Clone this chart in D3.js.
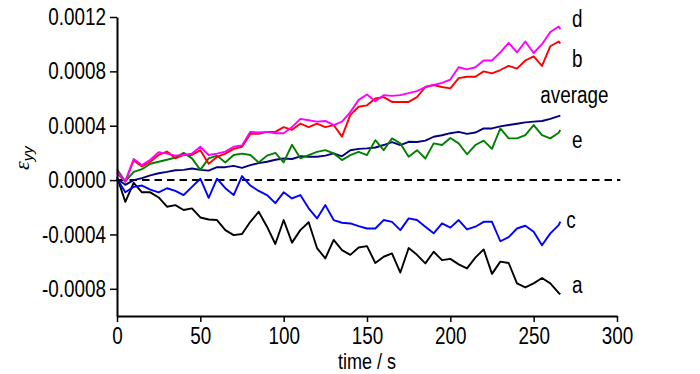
<!DOCTYPE html>
<html>
<head>
<meta charset="utf-8">
<script src="https://cdn.jsdelivr.net/npm/d3@7"></script>
<style>
  body { margin: 0; background: #fff; }
  svg text { font-family: "Liberation Sans", Arial, sans-serif; }
</style>
</head>
<body>
<svg id="chart" width="700" height="374"></svg>
<script>
// ---- data (strain values in units of 1e-4) ----
var unidad = 1e-4;

var tiempo = [0, 5, 10, 15, 20, 25, 30, 35, 40, 45, 50, 55, 60, 65, 70, 75, 80, 85, 90, 95,
  100, 105, 110, 115, 120, 125, 130, 135, 140, 145, 150, 155, 160, 165, 170, 175, 180, 185, 190, 195,
  200, 205, 210, 215, 220, 225, 230, 235, 240, 245, 250, 255, 260, 265, 266];

var serieA = [0.25, -1.6, -0.2, -0.9, -0.9, -1.28, -1.96, -1.84, -2.2, -2.08, -2.75, -2.9, -2.94, -3.68, -4.05, -3.97, -3.07, -2.33, -3.43, -4.7,
  -2.94, -4.6, -3.68, -3.1, -5.0, -5.76, -4.4, -5.15, -5.5, -4.96, -4.86, -6.1, -5.64, -5.4, -6.8, -5.0, -5.5, -6.13, -5.27, -5.89,
  -5.8, -6.2, -6.5, -5.7, -5.1, -6.9, -6.0, -6.1, -7.6, -7.9, -7.6, -7.2, -7.6, -8.3, -8.4];

var serieB = [0.5, -0.1, 1.45, 1.0, 1.35, 1.85, 2.1, 1.6, 1.85, 1.85, 2.2, 1.2, 1.7, 1.95, 2.3, 2.45, 3.4, 3.4, 3.55, 3.55,
  3.9, 3.7, 4.15, 3.9, 4.15, 3.9, 4.05, 3.2, 4.8, 5.4, 5.5, 6.0, 6.1, 5.75, 5.75, 5.75, 6.1, 6.85, 7.0, 6.85,
  6.75, 7.5, 7.6, 7.6, 8.0, 7.85, 8.1, 8.4, 8.2, 8.8, 9.1, 8.4, 9.85, 10.2, 10.05];

var serieC = [0.1, -0.9, -0.5, -0.4, -0.7, -0.9, -0.6, -0.8, -1.1, -0.5, 0.1, -1.3, 0.1, -0.6, -1.1, 0.3, -0.4, -0.8, -1.1, -1.7,
  -0.9, -1.35, -1.1, -2.08, -2.82, -1.84, -2.94, -3.14, -3.19, -3.39, -3.56, -3.56, -2.94, -3.07, -3.68, -2.82, -2.94, -3.43, -3.92, -3.19,
  -3.5, -2.94, -3.63, -3.43, -3.07, -3.07, -4.5, -4.2, -3.56, -3.36, -3.8, -4.8, -3.92, -3.31, -3.05];

var serieD = [0.6, -0.1, 1.55, 1.1, 1.5, 2.05, 1.95, 1.8, 1.85, 1.95, 2.45, 1.85, 1.95, 2.1, 2.45, 2.55, 3.55, 3.5, 3.55, 3.45,
  3.45, 3.9, 4.5, 4.4, 4.3, 4.35, 4.05, 4.3, 5.0, 5.9, 6.3, 5.8, 6.25, 6.2, 6.25, 6.4, 6.55, 6.85, 7.0, 7.15,
  7.4, 8.3, 8.15, 8.3, 8.8, 8.8, 9.4, 10.1, 9.4, 10.2, 9.35, 10.0, 10.9, 11.3, 11.1];

var serieE = [0.8, -0.1, 0.6, 0.8, 1.2, 1.35, 1.5, 1.65, 2.0, 1.6, 0.75, 1.6, 1.8, 1.3, 1.85, 1.95, 1.85, 1.3, 1.8, 2.0,
  1.3, 2.6, 1.6, 1.84, 2.08, 2.2, 1.96, 1.47, 1.84, 2.08, 1.84, 2.94, 2.2, 3.07, 2.7, 1.72, 2.2, 1.59, 2.7, 2.58,
  3.1, 2.7, 1.9, 2.58, 2.9, 2.3, 3.8, 3.07, 3.07, 3.31, 4.05, 3.31, 3.07, 3.48, 3.68];

var seriePromedio = [0.1, -0.35, 0.0, 0.15, 0.35, 0.5, 0.6, 0.72, 0.75, 0.85, 0.75, 0.7, 0.95, 0.95, 1.05, 0.9, 1.1, 1.25, 1.35, 1.5,
  1.59, 1.55, 1.75, 1.72, 1.72, 1.8, 1.96, 1.75, 2.2, 2.3, 2.33, 2.4, 2.58, 2.8, 2.58, 2.82, 2.8, 2.9, 3.19, 3.3,
  3.45, 3.55, 3.4, 3.5, 3.8, 3.8, 3.95, 4.05, 4.15, 4.25, 4.3, 4.35, 4.5, 4.7, 4.75];

// etiquetas de las curvas: texto, tiempo y valor (1e-4) de su posición
var etiquetas = [
  { texto: "d", t: 273, v: 11.26 },
  { texto: "b", t: 273, v: 8.32 },
  { texto: "average", t: 254, v: 5.67 },
  { texto: "e", t: 273, v: 2.36 },
  { texto: "c", t: 269.5, v: -3.53 },
  { texto: "a", t: 273, v: -8.32 }
];

var ticksX = [0, 50, 100, 150, 200, 250, 300];
var ticksY = [-0.0008, -0.0004, 0, 0.0004, 0.0008, 0.0012];

// ---- chart ----
var svg = d3.select("#chart");

var x = d3.scaleLinear().domain([0, 300]).range([117, 617]);
var y = d3.scaleLinear().domain([-0.001, 0.0012]).range([316, 17]);

// linea punteada en cero
svg.append("line")
  .attr("x1", x(0)).attr("x2", x(302))
  .attr("y1", y(0)).attr("y2", y(0))
  .attr("stroke", "#000")
  .attr("stroke-width", 2)
  .attr("stroke-dasharray", "7.5,5");

var linea = d3.line()
  .x(function (d) { return x(d[0]); })
  .y(function (d) { return y(d[1] * unidad); });

var series = [
  { valores: serieA, color: "#000000" },
  { valores: serieC, color: "#0000ff" },
  { valores: seriePromedio, color: "#000080" },
  { valores: serieE, color: "#008000" },
  { valores: serieB, color: "#ff0000" },
  { valores: serieD, color: "#ff00ff" }
];

series.forEach(function (s) {
  svg.append("path")
    .datum(tiempo.map(function (t, i) { return [t, s.valores[i]]; }))
    .attr("fill", "none")
    .attr("stroke", s.color)
    .attr("stroke-width", 1.9)
    .attr("stroke-linejoin", "round")
    .attr("d", linea);
});

// ejes
var fmtY = function (d) { return d3.format(".4f")(d).replace("\u2212", "-"); };

var gX = svg.append("g").attr("transform", "translate(0," + y(-0.001) + ")");
gX.call(d3.axisBottom(x).tickValues(d3.range(0, 301, 25)).tickSize(4).tickSizeOuter(0).tickFormat(""));
gX.call(d3.axisBottom(x).tickValues(ticksX).tickSize(6).tickSizeOuter(0).tickFormat(d3.format("d")));

var gY = svg.append("g").attr("transform", "translate(" + x(0) + ",0)");
gY.call(d3.axisLeft(y).tickValues(d3.range(-10, 13, 2).map(function (v) { return v * unidad; })).tickSize(4).tickSizeOuter(0).tickFormat(""));
gY.call(d3.axisLeft(y).tickValues(ticksY).tickSize(7).tickSizeOuter(0).tickFormat(fmtY));

svg.selectAll(".domain").attr("stroke", "#000").attr("stroke-width", 2);
svg.selectAll(".tick line").attr("stroke", "#000").attr("stroke-width", 1.5);
svg.selectAll(".tick text")
  .attr("class", "estrecho")
  .attr("font-size", "23px")
  .attr("font-family", null)
  .attr("fill", "#000");
gX.selectAll(".tick text").attr("y", 12);
gY.selectAll(".tick text").attr("x", -11).attr("dy", "0.33em");

// titulos de los ejes
svg.append("text")
  .attr("class", "estrecho")
  .attr("x", x(150))
  .attr("y", 369)
  .attr("text-anchor", "middle")
  .attr("font-size", "22px")
  .text("time / s");

var tituloY = svg.append("text")
  .attr("transform", "translate(29,170) rotate(-90)")
  .attr("font-size", "22px")
  .attr("font-style", "italic")
  .style("font-family", "'Liberation Serif', 'Times New Roman', serif");
tituloY.append("tspan").text("\u03b5");
tituloY.append("tspan")
  .attr("dy", 4)
  .attr("font-size", "15px")
  .style("font-family", "'Liberation Sans', Arial, sans-serif")
  .text("yy");

// etiquetas de las curvas
svg.selectAll("text.etiqueta")
  .data(etiquetas)
  .enter()
  .append("text")
  .attr("class", "etiqueta estrecho")
  .attr("x", function (d) { return x(d.t); })
  .attr("y", function (d) { return y(d.v * unidad); })
  .attr("font-size", "23px")
  .attr("fill", "#000")
  .text(function (d) { return d.texto; });

// letra angosta: se comprime el ancho del texto
svg.selectAll("text.estrecho").each(function () {
  var largo = this.getComputedTextLength();
  d3.select(this)
    .attr("textLength", largo * 0.82)
    .attr("lengthAdjust", "spacingAndGlyphs");
});
</script>
</body>
</html>
